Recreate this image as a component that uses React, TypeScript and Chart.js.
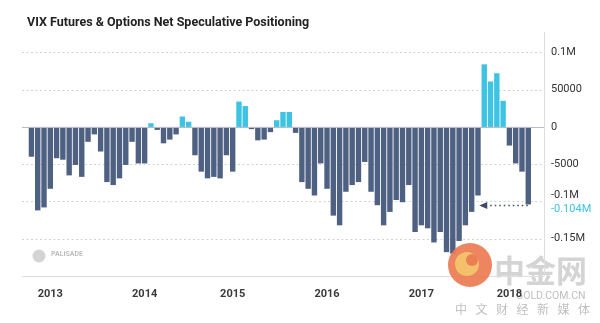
import React, { useEffect, useRef } from "react";
import { Chart, registerables } from "chart.js";

Chart.register(...registerables);

const TITLE = "VIX Futures & Options Net Speculative Positioning";

// Net speculative positioning (contracts), oldest -> latest
const netPositions = [
  -40000, -112000, -108000, -83000, -42000, -44000, -65000, -51000, -67000, -20000,
  -10000, -33000, -74000, -78000, -69000, -51000, -20000, -49000, -49000, 5000,
  -4000, -22000, -17000, -10000, 14000, 7000, -38000, -60000, -69000, -67000,
  -69000, -38000, -60000, 34000, 28000, -3000, -18000, -17000, -7000, 9000,
  20000, 20000, -8000, -74000, -83000, -92000, -49000, -83000, -119000, -132000,
  -87000, -78000, -74000, -47000, -87000, -105000, -132000, -114000, -98000, -101000,
  -78000, -141000, -132000, -136000, -155000, -141000, -168000, -170000, -153000, -132000,
  -114000, -92000, 84000, 61000, 72000, 35000, -25000, -49000, -60000, -104000,
];

const yearLabels = ["2013", "2014", "2015", "2016", "2017", "2018"];
const yearLabelSlot = [4, 19, 33, 48, 63, 77];
const leadingEmpty = 1;
const trailingEmpty = 2;

const yTickValues = [-200000, -150000, -100000, -50000, 0, 50000, 100000];
const yTickLabels = ["", "-0.15M", "-0.1M", "-5000", "0", "50000", "0.1M"];

const latestLabel = "-0.104M";
const latestValue = -104000;

const DARK = "#4f6183";
const CYAN = "#3ec4e2";
const FONT = "Roboto, 'Noto Sans', sans-serif";

const totalSlots = leadingEmpty + netPositions.length + trailingEmpty;
const categories: string[] = Array.from({ length: totalSlots }, (_, i) => {
  const k = yearLabelSlot.indexOf(i);
  return k >= 0 ? yearLabels[k] : "";
});
const seriesData: (number | null)[] = [
  ...Array(leadingEmpty).fill(null),
  ...netPositions,
  ...Array(trailingEmpty).fill(null),
];

const decorPlugin = {
  id: "decor",
  beforeDraw(chart: any) {
    const ctx = chart.ctx;
    ctx.save();
    // title
    ctx.fillStyle = "#222";
    ctx.font = `bold 12.5px ${FONT}`;
    ctx.textAlign = "left";
    ctx.textBaseline = "middle";
    ctx.fillText(TITLE, 27, 23);
    // PALISADE watermark
    ctx.fillStyle = "#d4d4d4";
    ctx.beginPath();
    ctx.arc(39, 256, 6.5, 0, Math.PI * 2);
    ctx.fill();
    ctx.fillStyle = "#bdbdbd";
    ctx.font = `bold 7px ${FONT}`;
    ctx.fillText("PALISADE", 51, 254);
    // 中金网 watermark text
    ctx.fillStyle = "rgba(170,170,170,0.5)";
    ctx.font = `bold 31px 'Noto Sans CJK SC'`;
    ctx.textBaseline = "alphabetic";
    ctx.fillText("中金网", 494, 282);
    ctx.fillStyle = "rgba(175,175,175,0.8)";
    ctx.font = `10.5px ${FONT}`;
    ctx.textBaseline = "middle";
    ctx.fillText("GOLD.COM.CN", 516, 296);
    ctx.font = `12px 'Noto Sans CJK SC'`;
    const cn = "中文财经新媒体";
    for (let i = 0; i < cn.length; i++) {
      ctx.fillText(cn[i], 455 + i * 20.5, 309);
    }
    ctx.restore();
  },
  beforeDatasetsDraw(chart: any) {
    const ctx = chart.ctx;
    const { left, right, top, bottom } = chart.chartArea;
    const y = chart.scales.y;
    ctx.save();
    ctx.lineWidth = 1;
    ctx.strokeStyle = "#d2d2d2";
    ctx.setLineDash([2, 2.5]);
    yTickValues.forEach((v) => {
      if (v === 0 || v === y.min) return;
      const py = Math.round(y.getPixelForValue(v)) + 0.5;
      ctx.beginPath();
      ctx.moveTo(left, py);
      ctx.lineTo(right, py);
      ctx.stroke();
    });
    ctx.setLineDash([]);
    // bottom axis line
    ctx.strokeStyle = "#dedede";
    ctx.beginPath();
    ctx.moveTo(left, bottom + 0.5);
    ctx.lineTo(right, bottom + 0.5);
    ctx.stroke();
    // right axis line
    ctx.beginPath();
    ctx.moveTo(right + 0.5, top - 4);
    ctx.lineTo(right + 0.5, bottom);
    ctx.stroke();
    ctx.restore();
  },
  afterDatasetsDraw(chart: any) {
    const ctx = chart.ctx;
    const { left, right } = chart.chartArea;
    const x = chart.scales.x;
    const y = chart.scales.y;
    ctx.save();
    // zero line
    const zy = Math.round(y.getPixelForValue(0)) + 0.5;
    ctx.strokeStyle = "#b9bcc2";
    ctx.lineWidth = 1;
    ctx.beginPath();
    ctx.moveTo(left, zy);
    ctx.lineTo(right, zy);
    ctx.stroke();
    // latest value annotation
    const ly = y.getPixelForValue(latestValue) + 1;
    const lastX = x.getPixelForValue(leadingEmpty + netPositions.length - 1);
    const tipX = lastX - 49;
    ctx.fillStyle = "#3d4b66";
    ctx.beginPath();
    ctx.moveTo(tipX, ly);
    ctx.lineTo(tipX + 8, ly - 3.5);
    ctx.lineTo(tipX + 8, ly + 3.5);
    ctx.closePath();
    ctx.fill();
    ctx.strokeStyle = "#3d4b66";
    ctx.lineWidth = 1.5;
    ctx.setLineDash([1.5, 3]);
    ctx.beginPath();
    ctx.moveTo(tipX + 11, ly);
    ctx.lineTo(lastX + 2, ly);
    ctx.stroke();
    ctx.setLineDash([]);
    ctx.fillStyle = CYAN;
    ctx.font = `11px ${FONT}`;
    ctx.textAlign = "left";
    ctx.textBaseline = "middle";
    ctx.fillText(latestLabel, right + 7, y.getPixelForValue(latestValue) + 5);
    // 中金网 logo
    ctx.globalAlpha = 0.9;
    ctx.fillStyle = "#eb7850";
    ctx.beginPath();
    ctx.arc(470, 265, 22, 0, Math.PI * 2);
    ctx.fill();
    ctx.fillStyle = "#f6c86e";
    ctx.beginPath();
    ctx.arc(467, 264, 12, 0, Math.PI * 2);
    ctx.fill();
    ctx.fillStyle = "#eb7850";
    ctx.beginPath();
    ctx.arc(472, 260, 6, 0, Math.PI * 2);
    ctx.fill();
    ctx.restore();
  },
};

export default function App() {
  const canvasRef = useRef<HTMLCanvasElement | null>(null);

  useEffect(() => {
    if (!canvasRef.current) return;
    const chart = new Chart(canvasRef.current, {
      type: "bar",
      data: {
        labels: categories,
        datasets: [
          {
            data: seriesData,
            backgroundColor: (c: any) => ((c.raw ?? 0) >= 0 ? CYAN : DARK),
            borderWidth: 0,
            barPercentage: 0.86,
            categoryPercentage: 1,
          },
        ],
      },
      options: {
        responsive: false,
        animation: false,
        layout: { padding: { left: 22, top: 36, right: 0, bottom: 0 } },
        plugins: {
          legend: { display: false },
          tooltip: { enabled: false },
          title: { display: false },
        },
        scales: {
          x: {
            type: "category",
            offset: true,
            grid: { display: false, drawTicks: false },
            border: { display: false },
            ticks: {
              autoSkip: false,
              maxRotation: 0,
              minRotation: 0,
              padding: 12,
              color: "#3a3a3a",
              font: { family: FONT, size: 11, weight: "bold" },
              callback: (_v: any, i: number) => categories[i],
            },
            afterFit: (s: any) => {
              s.height = 47;
            },
          },
          y: {
            position: "right",
            min: -200000,
            max: 122000,
            afterBuildTicks: (s: any) => {
              s.ticks = yTickValues.map((v) => ({ value: v }));
            },
            grid: { display: false, drawTicks: false },
            border: { display: false },
            ticks: {
              padding: 7,
              color: "#333",
              font: { family: FONT, size: 11 },
              callback: (v: any) => {
                const k = yTickValues.indexOf(Number(v));
                const lbl = k >= 0 ? yTickLabels[k] : "";
                return Number(v) === -100000 ? [lbl, " "] : lbl;
              },
            },
            afterFit: (s: any) => {
              s.width = 56;
            },
          },
        },
      },
      plugins: [decorPlugin],
    } as any);
    return () => chart.destroy();
  }, []);

  return (
    <div style={{ position: "fixed", left: 0, top: 0, width: 600, height: 323, background: "#fff" }}>
      <canvas ref={canvasRef} width={600} height={323} style={{ display: "block" }} />
    </div>
  );
}
